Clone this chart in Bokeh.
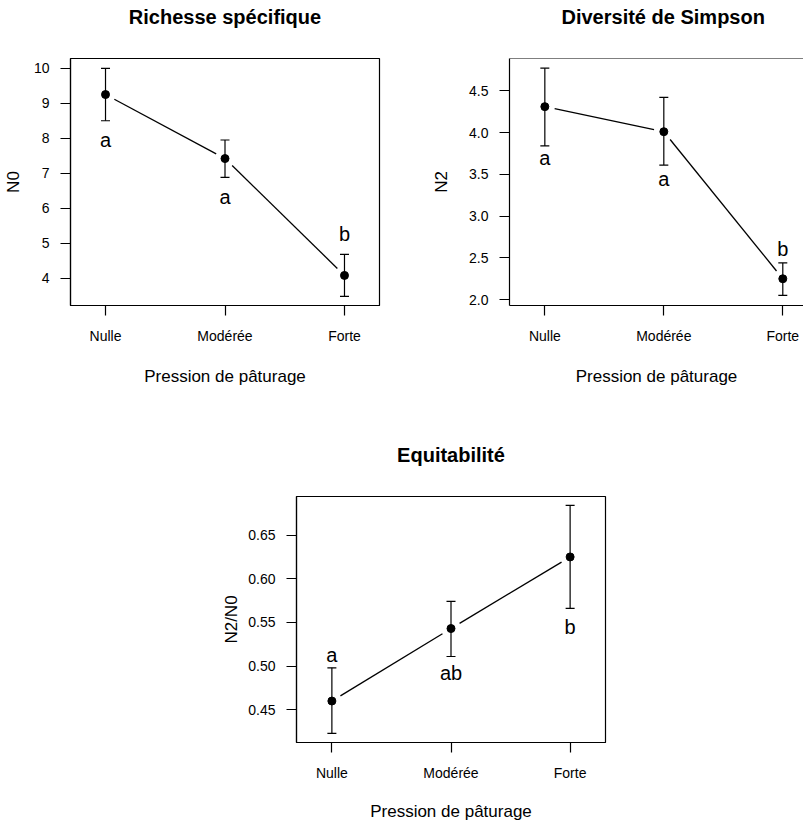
import math
from bokeh.plotting import figure
from bokeh.models import (Range1d, FixedTicker, Whisker, TeeHead, ColumnDataSource,
                          Span, Title, NumeralTickFormatter, BasicTickFormatter)
from bokeh.layouts import column, row
from bokeh.embed import file_html
from bokeh.resources import INLINE
from bokeh.core.properties import value

# ---------------- data ----------------
categories = ["Nulle", "Modérée", "Forte"]
x_pos = [1, 2, 3]

n0_mean = [9.25, 7.42, 4.08]
n0_low = [8.50, 6.88, 3.48]
n0_high = [10.00, 7.95, 4.68]
n0_letters = ["a", "a", "b"]
n0_letter_y = [7.79, 6.14, 5.08]
n0_ticks = [4, 5, 6, 7, 8, 9, 10]

n2_mean = [4.31, 4.01, 2.25]
n2_low = [3.84, 3.61, 2.05]
n2_high = [4.77, 4.42, 2.44]
n2_letters = ["a", "a", "b"]
n2_letter_y = [3.62, 3.37, 2.54]
n2_ticks = [2.0, 2.5, 3.0, 3.5, 4.0, 4.5]

eq_mean = [0.460, 0.543, 0.625]
eq_low = [0.423, 0.511, 0.566]
eq_high = [0.498, 0.574, 0.684]
eq_letters = ["a", "ab", "b"]
eq_letter_y = [0.506, 0.485, 0.538]
eq_ticks = [0.45, 0.50, 0.55, 0.60, 0.65]

FONT = "Liberation Sans"
INK = "black"
GAP = 10  # px gap of the connecting line around points (R type="b")


def panel(title, ylabel, mean, low, high, letters, letter_y, yticks, yfmt,
          xr, yr, fw, fh, mb, y_als, x_als, boxed=True, title_offset=None):
    p = figure(frame_width=fw, frame_height=fh, title=None,
               x_range=Range1d(*xr), y_range=Range1d(*yr),
               min_border_left=mb[0], min_border_right=mb[1],
               min_border_top=mb[2], min_border_bottom=mb[3],
               output_backend="svg", toolbar_location=None,
               background_fill_color="white", border_fill_color="white")

    sx = fw / (xr[1] - xr[0])
    sy = fh / (yr[1] - yr[0])

    # blank (white) spacer title next to the frame, then the real title above it
    p.add_layout(Title(text=".", text_color="white", text_font_size="10px",
                       standoff=21), "above")
    if title_offset is None:
        t = Title(text=title, align="center", standoff=0)
    else:
        t = Title(text=title, align="left", offset=title_offset, standoff=0)
    t.text_font = FONT
    t.text_font_size = "20px"
    t.text_font_style = "bold"
    t.text_color = INK
    p.add_layout(t, "above")

    p.xgrid.visible = False
    p.ygrid.visible = False
    if boxed:
        p.outline_line_color = INK
        p.outline_line_width = 1.2
        p.outline_line_alpha = 1.0
    else:
        p.outline_line_color = None
        p.add_layout(Span(location=yr[1], dimension="width",
                          line_color=INK, line_width=1.2))

    for ax in (p.xaxis[0], p.yaxis[0]):
        ax.axis_line_color = INK
        ax.axis_line_width = 1.2
        ax.major_tick_line_color = INK
        ax.major_tick_line_width = 1.2
        ax.major_tick_in = 0
        ax.major_tick_out = 10
        ax.minor_tick_line_color = None
        ax.major_label_text_font = FONT
        ax.major_label_text_font_size = "14px"
        ax.major_label_text_color = INK
        ax.axis_label_text_font = FONT
        ax.axis_label_text_font_size = "17px"
        ax.axis_label_text_font_style = "normal"
        ax.axis_label_text_color = INK

    p.xaxis.ticker = FixedTicker(ticks=x_pos, minor_ticks=[])
    p.xaxis.major_label_overrides = {x: c for x, c in zip(x_pos, categories)}
    p.xaxis.major_label_standoff = 12
    p.xaxis.axis_label = "Pression de pâturage"
    p.xaxis.axis_label_standoff = x_als

    p.yaxis.ticker = FixedTicker(ticks=yticks, minor_ticks=[])
    p.yaxis.formatter = yfmt
    p.yaxis.major_label_standoff = 11
    p.yaxis.axis_label = ylabel
    p.yaxis.axis_label_standoff = y_als

    src = ColumnDataSource(dict(x=x_pos, m=mean, lo=low, hi=high,
                                lt=letters, ly=letter_y))

    # connecting line with gaps near the points
    x0s, y0s, x1s, y1s = [], [], [], []
    for i in range(len(x_pos) - 1):
        dx = x_pos[i + 1] - x_pos[i]
        dy = mean[i + 1] - mean[i]
        L = math.hypot(dx * sx, dy * sy)
        f = GAP / L
        x0s.append(x_pos[i] + f * dx)
        y0s.append(mean[i] + f * dy)
        x1s.append(x_pos[i + 1] - f * dx)
        y1s.append(mean[i + 1] - f * dy)
    p.segment(x0s, y0s, x1s, y1s, line_color=INK, line_width=1.3)

    p.add_layout(Whisker(base="x", lower="lo", upper="hi", source=src,
                         dimension="height", line_color=INK, line_width=1.2,
                         lower_head=TeeHead(size=9, line_color=INK, line_width=1.2),
                         upper_head=TeeHead(size=9, line_color=INK, line_width=1.2)))
    p.scatter("x", "m", source=src, size=8, fill_color=INK, line_color=INK)
    p.text("x", "ly", text="lt", source=src, text_align="center",
           text_baseline="alphabetic", y_offset=-6, text_font=value(FONT),
           text_font_size="20px", text_color=INK)
    return p


p1 = panel("Richesse spécifique", "N0", n0_mean, n0_low, n0_high, n0_letters,
           n0_letter_y, n0_ticks, BasicTickFormatter(),
           (0.707, 3.293), (3.22, 10.28), 309, 247, (66, 50, 58, 90),
           y_als=8, x_als=20)

p2 = panel("Diversité de Simpson", "N2", n2_mean, n2_low, n2_high, n2_letters,
           n2_letter_y, n2_ticks, NumeralTickFormatter(format="0.0"),
           (0.703, 3.174), (1.93, 4.886), 294, 247, (76, 0, 58, 90),
           y_als=15, x_als=20, boxed=False, title_offset=52)

p3 = panel("Equitabilité", "N2/N0", eq_mean, eq_low, eq_high, eq_letters,
           eq_letter_y, eq_ticks, NumeralTickFormatter(format="0.00"),
           (0.703, 3.297), (0.4125, 0.6942), 309, 246, (296, 20, 101, 76),
           y_als=4, x_als=18)

layout = column(row(p1, p2), p3)
open("out.html", "w").write(file_html(layout, INLINE))
